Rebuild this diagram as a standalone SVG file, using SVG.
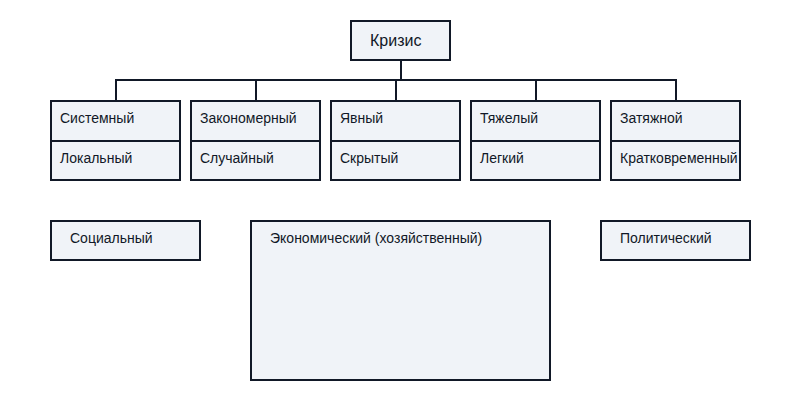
<svg xmlns="http://www.w3.org/2000/svg" width="800" height="400" viewBox="0 0 800 400">
<style>
rect{fill:#f0f3f8;stroke:#111827;stroke-width:2}
text{font-family:"Liberation Sans",Arial,sans-serif;font-size:14px;fill:#111827}
.c{fill:none;stroke:#111827;stroke-width:2}
</style>
<rect x="0" y="0" width="800" height="400" style="fill:#fff;stroke:none"/>
<g id="connectors" class="c">
<path d="M401 60V80M116 101V80H676V101M256 80V101M396 80V101M536 80V101"/>
</g>
<g id="krizis"><rect x="351" y="21" width="99" height="39"/><text x="370" y="46" style="font-size:16px">Кризис</text></g>
<g id="n1"><rect x="51" y="101" width="129" height="40"/><rect x="51" y="141" width="129" height="39"/><text x="60" y="123">Системный</text><text x="60" y="163">Локальный</text></g>
<g id="n2"><rect x="191" y="101" width="129" height="40"/><rect x="191" y="141" width="129" height="39"/><text x="200" y="123">Закономерный</text><text x="200" y="163">Случайный</text></g>
<g id="n3"><rect x="331" y="101" width="129" height="40"/><rect x="331" y="141" width="129" height="39"/><text x="340" y="123">Явный</text><text x="340" y="163">Скрытый</text></g>
<g id="n4"><rect x="471" y="101" width="129" height="40"/><rect x="471" y="141" width="129" height="39"/><text x="480" y="123">Тяжелый</text><text x="480" y="163">Легкий</text></g>
<g id="n5"><rect x="611" y="101" width="129" height="40"/><rect x="611" y="141" width="129" height="39"/><text x="620" y="123">Затяжной</text><text x="620" y="163">Кратковременный</text></g>
<g id="social"><rect x="51" y="221" width="149" height="39"/><text x="70" y="243">Социальный</text></g>
<g id="econ"><rect x="251" y="221" width="299" height="159"/><text x="270" y="243">Экономический (хозяйственный)</text></g>
<g id="polit"><rect x="601" y="221" width="149" height="39"/><text x="620" y="243">Политический</text></g>
</svg>
